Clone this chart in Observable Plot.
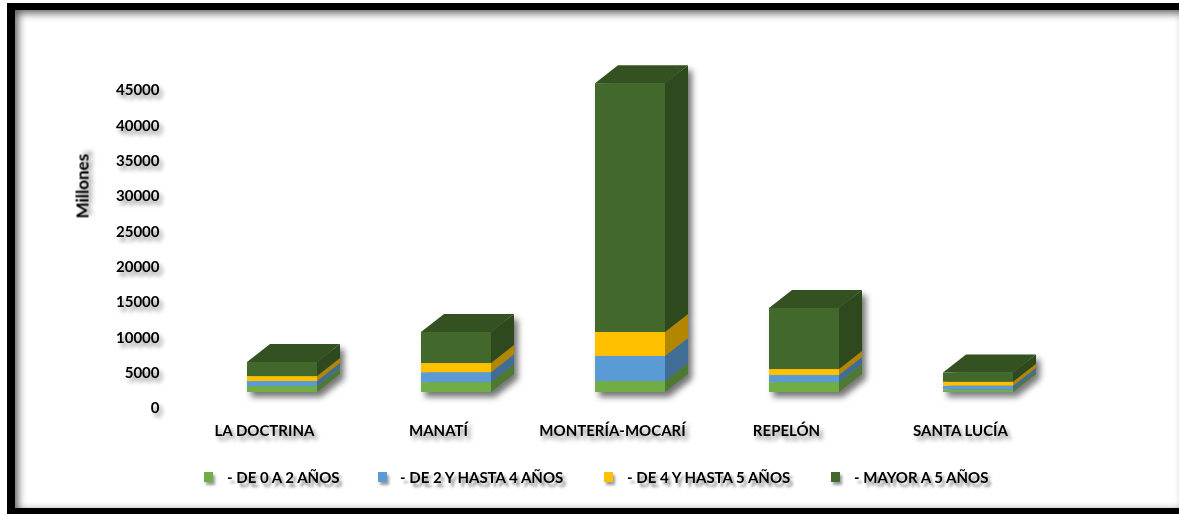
<!DOCTYPE html>
<html><head><meta charset="utf-8">
<script src="https://cdn.jsdelivr.net/npm/d3@7"></script>
<script src="https://cdn.jsdelivr.net/npm/@observablehq/plot@0.6"></script>
<style>
html,body{margin:0;background:#fff}
#wrap{position:relative;width:1179px;height:514px;overflow:hidden;font-family:Lato,sans-serif}
#frame{position:absolute;left:7px;top:3px;right:-10px;bottom:0;border:8px solid #000;border-top-width:7px;border-bottom-width:6px;box-shadow:inset 3px 3px 9px rgba(0,0,0,.65);pointer-events:none}
#chart{position:absolute;left:0;top:0}
#chart svg text{font-family:Lato,sans-serif;font-weight:700;fill:#000;filter:drop-shadow(3px 4px 2px rgba(0,0,0,.45)) blur(.4px)}
#chart svg [aria-label="bar"]{filter:drop-shadow(4px 5px 3px rgba(0,0,0,.55)) blur(.5px)}
#legend{position:absolute;left:0;top:460px;width:1179px;height:34px;font:700 15px Lato,sans-serif;color:#000;filter:blur(.4px)}
#legend span{position:absolute;top:8px;white-space:nowrap;text-shadow:3px 4px 3px rgba(0,0,0,.45)}
#legend i{position:absolute;top:12px;width:9px;height:10px;box-shadow:2px 3px 3px rgba(0,0,0,.4)}
</style></head>
<body><div id="wrap"><div id="chart"></div><div id="legend"></div><div id="frame"></div></div>
<script>
const municipios = ["LA DOCTRINA","MANATÍ","MONTERÍA-MOCARÍ","REPELÓN","SANTA LUCÍA"];
const grupos = ["- DE 0 A 2 AÑOS","- DE 2 Y HASTA 4 AÑOS","- DE 4 Y HASTA 5 AÑOS","- MAYOR A 5 AÑOS"];
const colores = ["#70AD47","#5B9BD5","#FFC000","#43682B"];
const de0a2 = [850,1400,1550,1400,350];
const de2a4 = [700,1400,3550,1000,550];
const de4a5 = [700,1300,3400,850,550];
const mayor5 = [2000,4400,35200,8650,1300];
const yTicks = [0,5000,10000,15000,20000,25000,30000,35000,40000,45000];
const leyendaX = [[204,227],[378,400],[604,627],[831,854]];

const series = [de0a2,de2a4,de4a5,mayor5];
const rows = grupos.flatMap((g,i)=>municipios.map((m,j)=>({municipio:m,grupo:g,valor:series[i][j]})));
const DX=23, DY=-18;

function faces(index, scales, values, dims, context, next){
  const g = next(index, scales, values, dims, context);
  const bw = +g.querySelector("rect").getAttribute("width");
  const ns = "http://www.w3.org/2000/svg";
  const first = g.firstChild;
  const poly = (pts,fill)=>{const p=document.createElementNS(ns,"polygon");
    p.setAttribute("points",pts.map(q=>q.join(",")).join(" "));p.setAttribute("fill",fill);g.insertBefore(p,first);};
  const isTop = i => rows[i].grupo === grupos[grupos.length-1];
  for(const i of index){
    const x = values.x[i], y1=Math.max(values.y1[i],values.y2[i]), y2=Math.min(values.y1[i],values.y2[i]);
    const c = d3.color(values.fill[i]);
    poly([[x+bw,y1],[x+bw+DX,y1+DY],[x+bw+DX,y2+DY],[x+bw,y2]], c.darker(1).formatHex());
    if(isTop(i)) poly([[x,y2],[x+DX,y2+DY],[x+bw+DX,y2+DY],[x+bw,y2]], c.darker(.7).formatHex());
  }
  return g;
}

const plot = Plot.plot({
  width:1179, height:460,
  marginLeft:194, marginRight:113, marginTop:74, marginBottom:68,
  style:{background:"transparent",overflow:"visible"},
  x:{domain:municipios,paddingInner:.6,paddingOuter:.3,align:.5,label:null},
  y:{domain:[0,45000],label:null},
  color:{domain:grupos,range:colores},
  marks:[
    Plot.barY(rows,{x:"municipio",y:"valor",fill:"grupo",order:grupos,render:faces}),
    Plot.axisY({ticks:yTicks,tickSize:0,tickPadding:35,dy:16,fontSize:15,label:null,tickFormat:d=>String(d)}),
    Plot.axisX({tickSize:0,tickPadding:33,dx:-18,fontSize:15,label:null}),
    Plot.text(["Millones"],{frameAnchor:"top-left",dx:-118,dy:144,rotate:-90,fontSize:17})
  ]
});
document.getElementById("chart").append(plot);

const leg=document.getElementById("legend");
grupos.forEach((g,i)=>{
  const sw=document.createElement("i");sw.style.left=leyendaX[i][0]+"px";sw.style.background=colores[i];leg.append(sw);
  const t=document.createElement("span");t.style.left=leyendaX[i][1]+"px";t.textContent=g;leg.append(t);
});
</script></body></html>
